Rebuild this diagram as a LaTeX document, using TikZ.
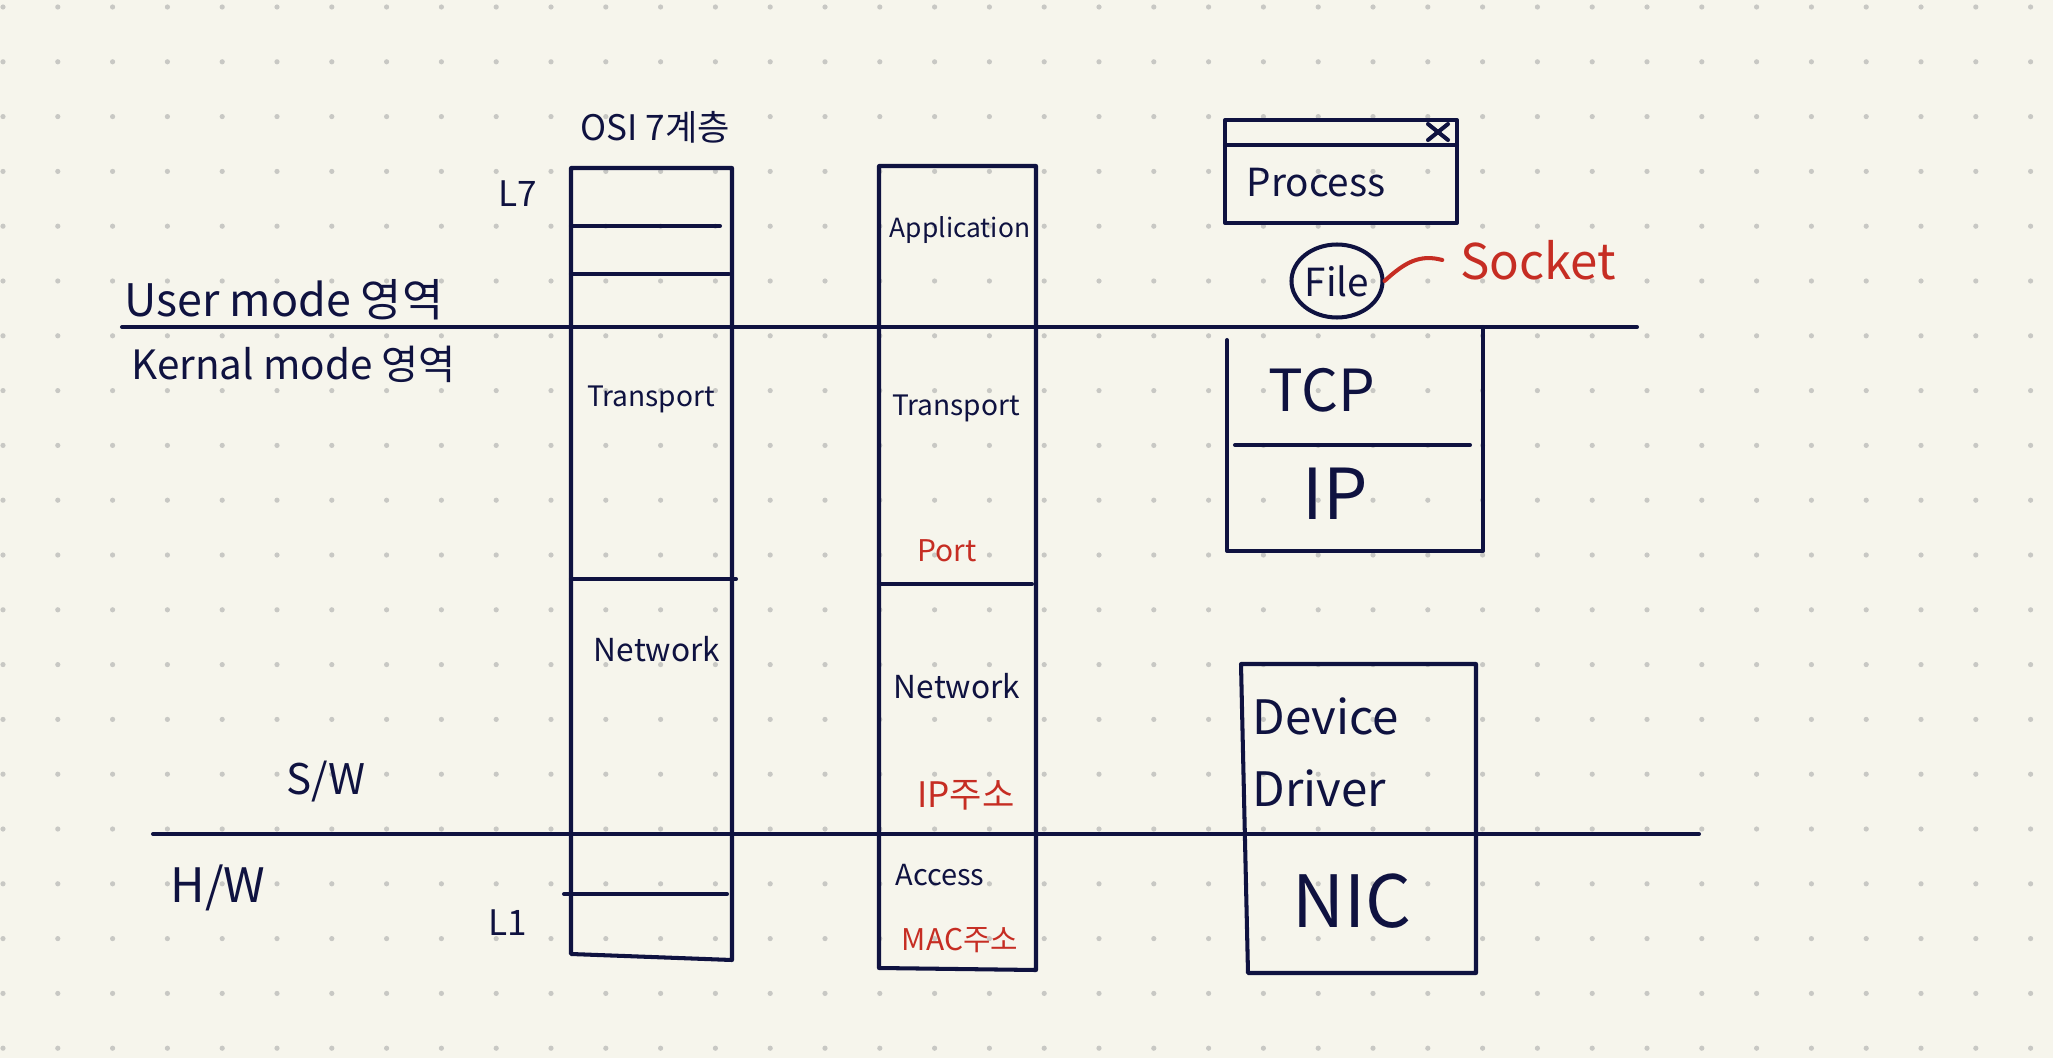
\documentclass[tikz,border=0pt]{standalone}
\usepackage{fontspec}
\usetikzlibrary{shapes.geometric}
\setmainfont{Noto Sans CJK KR}
\definecolor{bg}{RGB}{246,245,236}
\definecolor{ink}{RGB}{15,18,64}
\definecolor{redink}{RGB}{198,45,35}
\definecolor{dotc}{RGB}{200,200,196}
\tikzset{
  pen/.style={draw=ink, line width=2.3pt, line cap=round, line join=round},
  lbl/.style={text=ink, inner sep=0pt},
  rlbl/.style={text=redink, inner sep=0pt},
  fs/.style={font=\fontsize{#1}{#1}\selectfont}
}
\begin{document}
\begin{tikzpicture}[x=0.02cm, y=-0.02cm]
\useasboundingbox (0,0) rectangle (2053,1058);
\fill[bg] (0,0) rectangle (2053,1058);
\foreach \i in {0,...,37} {
  \foreach \j in {0,...,19} {
    \fill[dotc] ({3+54.8*\i},{7+54.8*\j}) circle (2.6);
  }
}
% mode / hw lines
\draw[pen] (122,327) -- (1637,327);
\draw[pen] (153,834) -- (1699,834);
% OSI column
\draw[pen] (571,168) -- (732,168) -- (732,960) -- (571,954) -- cycle;
\draw[pen] (571,226) -- (720,226);
\draw[pen] (571,274) -- (729,274);
\draw[pen] (571,579) -- (736,579);
\draw[pen] (564,894) -- (727,894);
% TCP/IP column
\draw[pen] (879,166) -- (1036,166) -- (1036,970) -- (879,968) -- cycle;
\draw[pen] (879,584) -- (1032,584);
% process box
\draw[pen] (1225,120) rectangle (1457,223);
\draw[pen] (1225,145) -- (1457,145);
\draw[pen] (1428,124) -- (1448,140);
\draw[pen] (1428,140) -- (1448,124);
% TCP/IP box
\draw[pen] (1227,340) -- (1227,551) -- (1483,551) -- (1483,327);
\draw[pen] (1235,445) -- (1470,445);
% device driver box
\draw[pen] (1241,664) -- (1476,664) -- (1476,973) -- (1248,973) -- cycle;

% labels
\node[lbl, fs=20pt] (osi) at (655,127) {OSI 7계층};
\node[lbl, fs=20pt] (l7) at (518,194) {L7};
\node[lbl, fs=20pt] (l1) at (508,923) {L1};
\node[lbl, fs=25.5pt, anchor=west] (user) at (124,300) {User mode 영역};
\node[lbl, fs=23pt, anchor=west] (kern) at (131,364) {Kernal mode 영역};
\node[lbl, fs=24pt] (sw) at (326,782) {S/W};
\node[lbl, fs=27pt] (hw) at (218,888) {H/W};

\node[lbl, fs=16pt] (tr1) at (651,399) {Transport};
\node[lbl, fs=18pt] (nw1) at (657,649) {Network};

\node[lbl, fs=15pt] (app) at (960,230) {Application};
\node[lbl, fs=16pt] (tr2) at (956,408) {Transport};
\node[rlbl, fs=17pt] (port) at (947,551) {Port};
\node[lbl, fs=18pt] (nw2) at (957,686) {Network};
\node[rlbl, fs=20pt] (ipaddr) at (966,795) {IP주소};
\node[lbl, fs=16.5pt] (acc) at (940,875) {Access};
\node[rlbl, fs=17pt] (mac) at (960,940) {MAC주소};

\node[lbl, fs=22pt] (proc) at (1316,183) {Process};
\node[lbl, fs=22pt, draw=ink, line width=2.3pt, ellipse, inner sep=0pt,
      minimum width=1.72cm, minimum height=1.46cm] (file) at (1337,281) {File};
\node[rlbl, fs=28pt] (sock) at (1538,260) {Socket};
\draw[draw=redink, line width=2.3pt, line cap=round] (file.east) .. controls (1405,262) and (1420,254) .. ([xshift=-10pt]sock.west);

\node[lbl, fs=33pt] (tcp) at (1322,390) {TCP};
\node[lbl, fs=40pt] (ip) at (1335,494) {IP};
\node[lbl, fs=27pt, align=left, anchor=west] (dd) at (1252,752) {Device\\[14pt]Driver};
\node[lbl, fs=41pt] (nic) at (1352,901) {NIC};
\end{tikzpicture}
\end{document}
